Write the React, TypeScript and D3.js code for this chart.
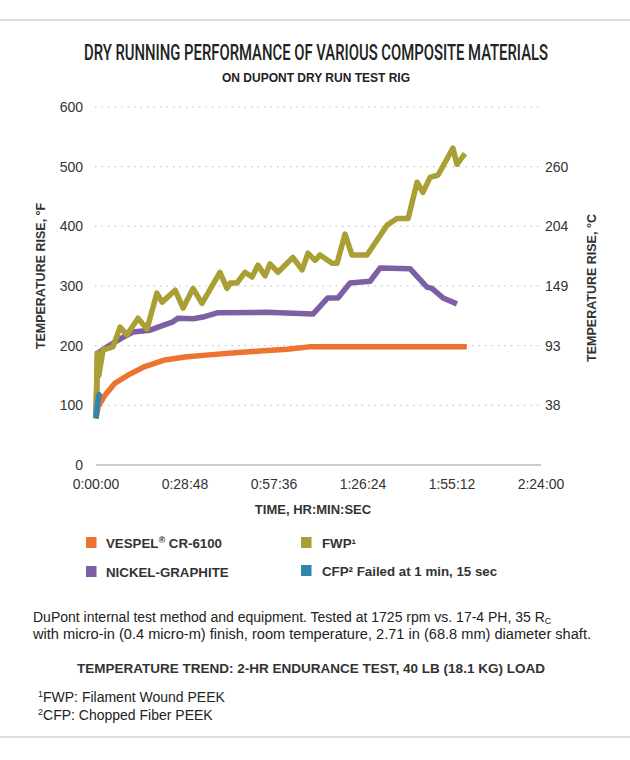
import * as d3 from "d3";

// time in minutes, temperature rise in °F
const vespel: [number, number][] = [
  [0, 78], [0.7, 98], [2.9, 117], [6.1, 137], [10.5, 151], [15.8, 165],
  [22.3, 176], [28.8, 181], [37.4, 185], [45, 188], [53, 191], [61.8, 194],
  [69, 198], [120, 198],
];

const nickelGraphite: [number, number][] = [
  [0, 80], [0.5, 181], [1, 189], [3.6, 198], [6.1, 206], [8.7, 214], [12, 223],
  [17.5, 226], [21.7, 234], [24.9, 240], [26.5, 246], [31.4, 245], [34.6, 248],
  [39.2, 255], [55.3, 256], [70.2, 253], [75, 280], [78.3, 280], [82.2, 305],
  [88.7, 308], [91.9, 330], [101.6, 329], [107.1, 298], [108.7, 296],
  [112.3, 280], [116.8, 270],
];

const fwp: [number, number][] = [
  [0, 80], [0.4, 188], [0.9, 150], [2.3, 193], [5.5, 198], [7.8, 231], [10, 218],
  [13.6, 246], [16.5, 228], [19.7, 288], [21.4, 273], [25.6, 293], [28.2, 263],
  [31.4, 296], [34.3, 271], [40.1, 323], [42.4, 296], [43.4, 305], [45.6, 305],
  [48.2, 323], [50.5, 315], [52.4, 335], [54.7, 317], [56.3, 337], [58.9, 323],
  [63.7, 348], [66.7, 327], [68.6, 355], [70.9, 343], [72.5, 352], [76.4, 338],
  [78, 338], [80.6, 387], [82.8, 352], [87.7, 352], [94.2, 402], [97.4, 413],
  [101, 413], [103.9, 474], [105.8, 457], [108.1, 482], [110.7, 486],
  [115.5, 531], [116.8, 504], [119.4, 522],
];

const cfp: [number, number][] = [
  [0, 78], [0.4, 100], [0.8, 112], [1.0, 118], [1.25, 114],
];

const yTicksF = [0, 100, 200, 300, 400, 500, 600];
const yTicksC = [100, 200, 300, 400, 500];
const xTicksMin = [0, 28.8, 57.6, 86.4, 115.2, 144];

const colors = {
  vespel: "#ec7330",
  nickel: "#7d5fa5",
  fwp: "#a99f34",
  cfp: "#2f86b0",
};

const font = "'Liberation Sans', Arial, sans-serif";
const textCol = "#333";

function fmtTime(min: number) {
  const s = Math.round(min * 60);
  const h = Math.floor(s / 3600);
  const m = Math.floor((s % 3600) / 60);
  const sec = s % 60;
  return `${h}:${String(m).padStart(2, "0")}:${String(sec).padStart(2, "0")}`;
}

export default function App() {
  const x = d3.scaleLinear().domain([0, 144]).range([96, 541]);
  const y = d3.scaleLinear().domain([0, 600]).range([465, 107]);
  const line = d3
    .line<[number, number]>()
    .x(d => x(d[0]))
    .y(d => y(d[1]));

  const series = [
    { data: vespel, color: colors.vespel },
    { data: nickelGraphite, color: colors.nickel },
    { data: fwp, color: colors.fwp },
    { data: cfp, color: colors.cfp },
  ];

  return (
    <svg
      width={630}
      height={760}
      style={{ position: "absolute", left: 0, top: 0, background: "#fff" }}
      fontFamily={font}
    >
      {/* frame lines */}
      <line x1={0} x2={630} y1={20} y2={20} stroke="#ddd" strokeWidth={2} />
      <line x1={0} x2={630} y1={737} y2={737} stroke="#ddd" strokeWidth={2} />

      {/* titles */}
      <text
        x={316}
        y={60}
        textAnchor="middle"
        fontSize={22}
        fontFamily="Roboto, 'Liberation Sans', sans-serif"
        fontWeight={500}
        fill="#222"
        textLength={464}
        lengthAdjust="spacingAndGlyphs"
      >
        DRY RUNNING PERFORMANCE OF VARIOUS COMPOSITE MATERIALS
      </text>
      <text x={316} y={81.5} textAnchor="middle" fontSize={12} fontWeight="bold" fill="#222">
        ON DUPONT DRY RUN TEST RIG
      </text>

      {/* grid */}
      {yTicksF.filter(t => t > 0).map(t => (
        <line
          key={t}
          x1={95}
          x2={542}
          y1={y(t)}
          y2={y(t)}
          stroke="#bbb"
          strokeWidth={1}
          strokeDasharray="1.5,5"
        />
      ))}
      <line x1={96} x2={541} y1={y(0)} y2={y(0)} stroke="#999" strokeWidth={1} />

      {/* left axis labels */}
      {yTicksF.map(t => (
        <text key={t} x={83} y={y(t) + 5} textAnchor="end" fontSize={14} fill={textCol}>
          {t}
        </text>
      ))}
      {/* right axis labels (°C) */}
      {yTicksC.map(t => (
        <text key={t} x={545} y={y(t) + 5} textAnchor="start" fontSize={14} fill={textCol}>
          {Math.round(((t - 32) * 5) / 9)}
        </text>
      ))}
      {/* x axis labels */}
      {xTicksMin.map(t => (
        <text key={t} x={x(t)} y={489} textAnchor="middle" fontSize={14} fill={textCol}>
          {fmtTime(t)}
        </text>
      ))}

      <text x={313} y={514} textAnchor="middle" fontSize={13} fontWeight="bold" fill={textCol}>
        TIME, HR:MIN:SEC
      </text>
      <text
        transform="translate(45,276) rotate(-90)"
        textAnchor="middle"
        fontSize={12.5}
        fontWeight="bold"
        fill={textCol}
      >
        TEMPERATURE RISE, °F
      </text>
      <text
        transform="translate(596,288) rotate(-90)"
        textAnchor="middle"
        fontSize={12.5}
        fontWeight="bold"
        fill={textCol}
      >
        TEMPERATURE RISE, °C
      </text>

      {/* lines */}
      {series.map((s, i) => (
        <path
          key={i}
          d={line(s.data) || ""}
          fill="none"
          stroke={s.color}
          strokeWidth={5.5}
          strokeLinejoin="round"
        />
      ))}

      {/* legend */}
      <rect x={86} y={537} width={10.5} height={11} fill={colors.vespel} />
      <text x={106} y={547.5} fontSize={13.3} fontWeight="bold" fill={textCol}>
        VESPEL<tspan fontSize={9} dy={-4.5}>®</tspan>
        <tspan dy={4.5}> CR-6100</tspan>
      </text>
      <rect x={86} y={566} width={10.5} height={11} fill={colors.nickel} />
      <text x={106} y={576.5} fontSize={13.3} fontWeight="bold" fill={textCol}>
        NICKEL-GRAPHITE
      </text>
      <rect x={301} y={537} width={10.5} height={11} fill={colors.fwp} />
      <text x={322} y={547.5} fontSize={13.3} fontWeight="bold" fill={textCol}>
        FWP¹
      </text>
      <rect x={301} y={565} width={10.5} height={11} fill={colors.cfp} />
      <text x={322} y={575.5} fontSize={13.3} fontWeight="bold" fill={textCol}>
        CFP² Failed at 1 min, 15 sec
      </text>

      {/* notes */}
      <text x={33} y={622} fontSize={14} fill="#222">
        DuPont internal test method and equipment. Tested at 1725 rpm vs. 17-4 PH, 35 R
        <tspan fontSize={9} dy={2}>C</tspan>
      </text>
      <text x={33} y={639} fontSize={14} fill="#222" textLength={558} lengthAdjust="spacingAndGlyphs">
        with micro-in (0.4 micro-m) finish, room temperature, 2.71 in (68.8 mm) diameter shaft.
      </text>
      <text x={311} y={672.5} textAnchor="middle" fontSize={13.5} fontWeight="bold" fill={textCol}>
        TEMPERATURE TREND: 2-HR ENDURANCE TEST, 40 LB (18.1 KG) LOAD
      </text>
      <text x={38} y={702} fontSize={14} fill="#222">
        <tspan fontSize={9} dy={-5}>1</tspan>
        <tspan dy={5}>FWP: Filament Wound PEEK</tspan>
      </text>
      <text x={38} y={720} fontSize={14} fill="#222">
        <tspan fontSize={9} dy={-5}>2</tspan>
        <tspan dy={5}>CFP: Chopped Fiber PEEK</tspan>
      </text>
    </svg>
  );
}
